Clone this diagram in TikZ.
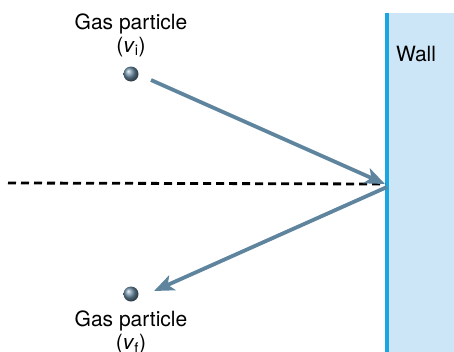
\documentclass[tikz,border=0pt]{standalone}
\usepackage{fontspec}
\setmainfont{TeX Gyre Heros}
\usetikzlibrary{arrows.meta, positioning, calc}
\definecolor{wallFill}{HTML}{CCE6F7}
\definecolor{wallEdge}{HTML}{1AA6E0}
\definecolor{pathBlue}{HTML}{5E849E}
\definecolor{ballGray}{HTML}{6A8CA3}

\begin{document}
\begin{tikzpicture}[x=1pt, y=-1pt,
  label/.style={font=\fontsize{21}{24}\selectfont, align=center, inner sep=0pt},
  particle/.style={circle, minimum size=15pt, inner sep=0pt, ball color=ballGray},
  arr/.style={-{Stealth[length=20pt, width=16pt, inset=5pt]}, line width=3.8pt, pathBlue}]

  \useasboundingbox (0,0) rectangle (454,351);

  % the wall
  \fill[wallFill] (387,13) rectangle (456,353);
  \draw[wallEdge, line width=3.2pt] (387,13) -- (387,353);
  \node[label] (wall) at (416,54) {Wall};

  % particles and their labels
  \node[particle] (pi) at (131,74) {};
  \node[particle] (pf) at (131,294) {};
  \node[label] (vi) at (131,47) {(\textit{v}\textsubscript{i})};
  \node[label, above=3pt of vi] (gi) {Gas particle};
  \node[label, below=9pt of pf] (gf) {Gas particle};
  \node[label, below=3pt of gf] (vf) {(\textit{v}\textsubscript{f})};

  \coordinate (hit) at (385,184);
  \coordinate (start) at (151,80);
  \coordinate (back) at (387,187);
  \coordinate (tip) at (154,291);
  \coordinate (far) at (8,183);

  % normal to the wall
  \draw[dashed, dash pattern=on 8pt off 5pt, line width=2.8pt] (far) -- (hit);

  % paths of the particle
  \draw[arr] (start) -- (hit);
  \draw[arr] (back) -- (tip);
\end{tikzpicture}
\end{document}
